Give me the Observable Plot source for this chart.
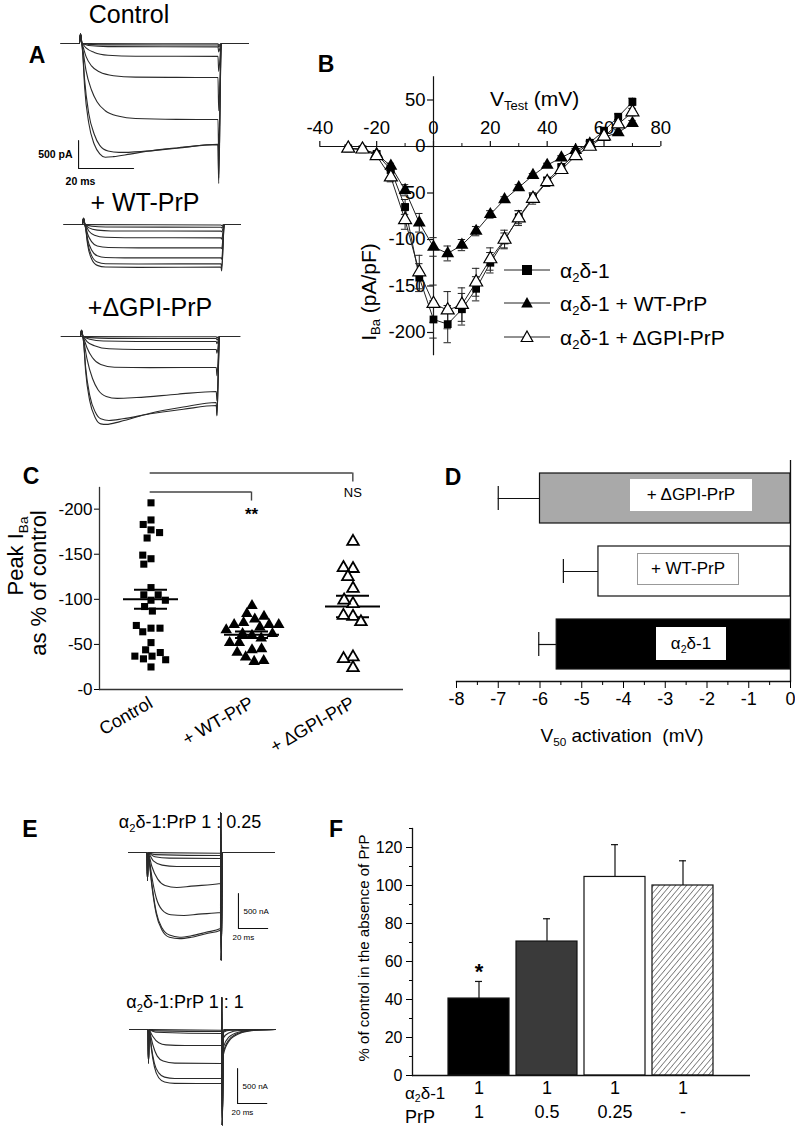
<!DOCTYPE html>
<html><head><meta charset="utf-8">
<script src="https://cdn.jsdelivr.net/npm/d3@7"></script>
<script src="https://cdn.jsdelivr.net/npm/@observablehq/plot@0.6"></script>
<style>
body{margin:0;background:#fff;}
#fig{position:relative;width:795px;height:1133px;overflow:hidden;font-family:"Liberation Sans",Arial,sans-serif;color:#000;background:#fff;}
.abs{position:absolute;white-space:nowrap;line-height:1;}
sub{font-size:0.62em;vertical-align:-0.35em;line-height:0;}
.box{position:absolute;background:#fff;display:flex;align-items:center;justify-content:center;font-size:17px;white-space:nowrap;}
</style></head><body>
<svg width="0" height="0" style="position:absolute"><defs>
<pattern id="hatch" patternUnits="userSpaceOnUse" width="4.2" height="4.2" patternTransform="rotate(40)">
<rect width="4.2" height="4.2" fill="#fff"/><line x1="0" y1="0" x2="0" y2="4.2" stroke="#333" stroke-width="1.1"/></pattern>
</defs></svg>
<div id="fig"></div>
<script>
// ---------------- DATA ----------------
// Panel A traces (t in ms, I in pA)
const aCtrlPre = [[-7,0],[-0.4,0],[0,170],[0.5,0]];
const aCtrlBodies = [
 [[0.8,-2],[50,-5]],
 [[0.8,-2],[3,-15],[10,-25],[50,-27]],
 [[0.8,-3],[3,-35],[10,-55],[50,-60]],
 [[0.8,-10],[2,-80],[5,-160],[10,-210],[20,-228],[50,-230]],
 [[0.8,-40],[2,-230],[4,-400],[7,-510],[12,-575],[20,-600],[35,-605],[50,-607]],
 [[0.8,-90],[2,-480],[4,-830],[6,-1040],[9,-1200],[14,-1300],[20,-1340],[35,-1355],[50,-1357]],
 [[0.8,-150],[1.5,-650],[3,-1250],[5,-1620],[7,-1820],[10,-1920],[14,-1945],[22,-1930],[35,-1870],[50,-1800]],
 [[0.8,-170],[1.5,-780],[3,-1420],[5,-1800],[7,-1970],[9,-2030],[12,-2020],[18,-1975],[25,-1920],[35,-1865],[50,-1805]]
];
const aCtrlTails = [-30,-60,-150,-500,-1200,-2000,-2400,-2500];

const aWTPre = [[-7,0],[-0.4,0],[0,110],[0.5,0]];
const aWTBodies = [
 [[0.8,-2],[50,-8]],
 [[0.8,-5],[3,-30],[8,-45],[50,-48]],
 [[0.8,-10],[2,-60],[5,-100],[10,-115],[50,-119]],
 [[0.8,-20],[2,-120],[4,-190],[8,-228],[15,-236],[50,-238]],
 [[0.8,-40],[1.5,-170],[3,-310],[5,-385],[9,-410],[20,-417],[50,-417]],
 [[0.8,-60],[1.5,-260],[3,-460],[5,-560],[8,-590],[15,-596],[50,-595]],
 [[0.8,-70],[1.5,-320],[3,-560],[5,-670],[8,-700],[20,-705],[50,-702]],
 [[0.8,-80],[1.5,-360],[3,-620],[5,-730],[8,-760],[20,-765],[50,-762]]
];
const aWTTails = [-20,-60,-130,-260,-430,-620,-760,-830];

const aGPIPre = [[-7.3,0],[-0.4,0],[0,110],[0.5,0]];
const aGPIBodies = [
 [[0.8,-2],[49,-5]],
 [[0.8,-3],[3,-20],[10,-33],[49,-36]],
 [[0.8,-6],[3,-50],[8,-80],[20,-88],[49,-89]],
 [[0.8,-15],[2,-90],[5,-170],[10,-220],[20,-232],[49,-232]],
 [[0.8,-35],[2,-200],[4,-380],[7,-500],[12,-548],[25,-555],[49,-554]],
 [[0.8,-70],[2,-400],[4,-750],[6,-950],[9,-1070],[13,-1105],[20,-1090],[35,-1030],[49,-982]],
 [[0.8,-110],[1.5,-550],[3,-1050],[5,-1350],[7,-1470],[10,-1500],[15,-1470],[25,-1380],[37,-1300],[49,-1232]],
 [[0.8,-120],[1.5,-620],[3,-1150],[5,-1450],[7,-1560],[9,-1570],[14,-1520],[25,-1370],[37,-1260],[49,-1179]]
];
const aGPITails = [-20,-60,-130,-300,-700,-1150,-1400,-1420];

const aScaleBar = {t: -0.7, i: -2232, dt: 20, di: 500, tl: "20 ms", il: "500 pA"};

// Panel B: I-V relationship
const bV = [-30,-25,-20,-15,-10,-5,0,5,10,15,20,25,30,35,40,45,50,55,60,65,70];
const bCtrl = [-2,-3,-8,-25,-65,-141,-186,-191,-175,-153,-125,-101,-76,-55,-37,-22,-8,4,17,32,48];
const bCtrlE = [1,1,2,4,8,15,20,20,17,13,11,8,7,5,4,3,3,2,3,3,4];
const bWT = [-2,-3,-8,-21,-47,-82,-108,-115,-106,-91,-73,-57,-44,-31,-20,-12,-4,3,10,15,25];
const bWTE = [1,1,2,3,6,10,10,8,6,5,4,3,3,2,2,2,2,2,2,3,3];
const bGPI = [-2,-3,-10,-33,-79,-135,-169,-176,-170,-146,-121,-100,-77,-56,-38,-25,-10,0,11,24,37];
const bGPIE = [1,1,2,5,10,18,20,20,18,15,12,10,8,6,5,4,3,2,3,3,4];
const bXTicks = [-40,-20,0,20,40,60,80];
const bXMinor = [-30,-10,10,30,50,70];
const bYTicks = [-200,-150,-100,-50,0,50];

// Panel C: peak IBa as % of control
const cGroups = ["Control", "+ WT-PrP", "+ ΔGPI-PrP"];
const cControl = [207,188,177,183,174,168,145,149,139,113,99,105,105,99,92,87,68,64,68,71,52,44,37,34,41,33,37,25];
const cWT = [93,84,78,81,74,72,72,72,69,60,66,62,62,57,52,52,44,45,36,41,31,32];
const cGPI = [164,134,135,125,112,95,99,81,82,75,36,34,24];
const cBrackets = [
 {from: "Control", to: "+ WT-PrP", level: 219, mark: "**"},
 {from: "Control", to: "+ ΔGPI-PrP", level: 240, mark: "NS"}
];

// Panel D: V50 activation
const dGroups = ["+ ΔGPI-PrP", "+ WT-PrP", "α2δ-1"];
const dV50 = [-6.0, -4.6, -5.6];
const dErr = [1.0, 0.84, 0.43];

// Panel E traces (t in ms, I in nA)
const e1Pre = [[-13,0],[-0.3,0],[0,-400],[0.4,0]];
const e1Bodies = [
 [[0.8,-2],[50,-10]],
 [[0.8,-3],[5,-30],[50,-43]],
 [[0.8,-5],[5,-60],[15,-80],[50,-86]],
 [[0.8,-10],[4,-120],[10,-180],[20,-200],[50,-200]],
 [[0.8,-20],[3,-200],[7,-380],[12,-470],[20,-500],[30,-480],[50,-443]],
 [[0.8,-40],[3,-350],[6,-650],[10,-820],[16,-890],[25,-900],[35,-880],[50,-857]],
 [[0.8,-50],[3,-450],[6,-850],[10,-1080],[15,-1180],[22,-1210],[30,-1190],[40,-1140],[50,-1086]],
 [[0.8,-55],[3,-480],[6,-880],[10,-1110],[15,-1210],[22,-1230],[30,-1210],[40,-1160],[50,-1110]]
];
const e1Post = [[50.2,570],[50.5,-1540],[51.2,0],[87,0]];
const e1ScaleBar = {t: 62.3, i: -1086, dt: 20, di: 500, tl: "20 ms", il: "500 nA"};

const e2Pre = [[-13,0],[-0.3,0],[0,-480],[0.4,0]];
const e2Bodies = [
 [[0.8,-2],[50,-10]],
 [[0.8,-3],[5,-20],[50,-29]],
 [[0.8,-5],[5,-40],[50,-57]],
 [[0.8,-15],[3,-100],[7,-190],[12,-220],[25,-229],[50,-229]],
 [[0.8,-30],[3,-220],[6,-380],[10,-450],[18,-480],[50,-486]],
 [[0.8,-40],[2,-250],[4,-480],[7,-620],[11,-680],[18,-700],[50,-700]],
 [[0.8,-45],[2,-280],[4,-530],[7,-690],[11,-750],[18,-770],[50,-771]]
];
const e2Spike = [[50.2,460],[50.5,-1370]];
const e2Tails = [
 [[51.3,0],[87,0]],
 [[51.3,-20],[56,-5],[87,0]],
 [[51.3,-40],[56,-10],[87,0]],
 [[51.3,-120],[55,-50],[62,-15],[87,0]],
 [[51.3,-250],[55,-110],[62,-35],[72,-5],[87,0]],
 [[51.3,-320],[55,-150],[62,-50],[72,-10],[87,0]],
 [[51.3,-360],[55,-170],[62,-60],[72,-12],[87,0]]
];
const e2ScaleBar = {t: 61, i: -1057, dt: 20, di: 500, tl: "20 ms", il: "500 nA"};

// Panel F: % of control
const fCats = ["1:1", "1:0.5", "1:0.25", "1:-"];
const fAlpha = ["1", "1", "1", "1"];
const fPrP = ["1", "0.5", "0.25", "-"];
const fPct = [40.5, 70.5, 104.5, 100];
const fSem = [9, 12, 17, 13];
const fSig = ["*", "", "", ""];

// ---------------- HELPERS ----------------
const FONT = '"Liberation Sans", Arial, Helvetica, sans-serif';
const fig = document.getElementById("fig");
function put(node, left, top) {
  node.style.position = "absolute";
  node.style.left = left + "px";
  node.style.top = top + "px";
  fig.appendChild(node);
  return node;
}
function label(html, x, y, o = {}) {
  const d = document.createElement("div");
  d.className = "abs";
  d.innerHTML = html;
  d.style.left = x + "px";
  d.style.top = y + "px";
  d.style.fontSize = (o.size || 16) + "px";
  if (o.weight) d.style.fontWeight = o.weight;
  const ax = o.anchor === "start" ? "0" : o.anchor === "end" ? "-100%" : "-50%";
  d.style.transform = `translate(${ax},-50%)` + (o.rotate ? ` rotate(${o.rotate}deg)` : "");
  fig.appendChild(d);
  return d;
}
const baseStyle = {fontFamily: FONT, background: "transparent", overflow: "visible", color: "black"};

function tracePlot({pre, bodies, posts, box, org, bar, barStyle}) {
  const rows = [];
  bodies.forEach((body, k) => {
    [...pre, ...body, ...posts[k]].forEach(([t, i]) => rows.push({k, t, i}));
  });
  const xd = [(box.left - org.x) / org.kx, (box.left + box.width - org.x) / org.kx];
  const yd = [(org.y - box.top - box.height) / org.ky, (org.y - box.top) / org.ky];
  const marks = [
    Plot.line(rows, {x: "t", y: "i", z: "k", stroke: "#2a2a2a", strokeWidth: 1.1, curve: "monotone-x"}),
    Plot.line([[bar.t, bar.i + bar.di], [bar.t, bar.i], [bar.t + bar.dt, bar.i]], {stroke: "#111", strokeWidth: 1.1}),
    Plot.text([bar], {x: "t", y: d => d.i + d.di / 2, text: "il", textAnchor: barStyle.ilAnchor, dx: barStyle.ilDx, fontSize: barStyle.size, fontWeight: barStyle.weight}),
    Plot.text([bar], {x: "t", y: "i", text: "tl", textAnchor: "start", dx: barStyle.tlDx, dy: barStyle.tlDy, fontSize: barStyle.size, fontWeight: barStyle.weight})
  ];
  const svg = Plot.plot({
    width: box.width, height: box.height, margin: 0,
    x: {domain: xd, axis: null}, y: {domain: yd, axis: null},
    style: baseStyle, marks
  });
  put(svg, box.left, box.top);
}

// ---------------- PANEL A ----------------
const aBarStyle = {ilAnchor: "end", ilDx: -6, tlDx: -13, tlDy: 13, size: 10.5, weight: "bold"};
const aNoBar = {t: 0, i: 0, dt: 0, di: 0, tl: "", il: ""};
tracePlot({pre: aCtrlPre, bodies: aCtrlBodies, posts: aCtrlTails.map(v => [[50.25, v], [51.2, 0], [61, 0]]),
  box: {left: 15, top: 25, width: 240, height: 170}, org: {x: 80, y: 43, kx: 2.75, ky: 0.056}, bar: aScaleBar, barStyle: aBarStyle});
tracePlot({pre: aWTPre, bodies: aWTBodies, posts: aWTTails.map(v => [[50.25, v], [51.2, 0], [57, 0]]),
  box: {left: 15, top: 205, width: 240, height: 80}, org: {x: 83, y: 224, kx: 2.75, ky: 0.056}, bar: aNoBar, barStyle: aBarStyle});
tracePlot({pre: aGPIPre, bodies: aGPIBodies, posts: aGPITails.map(v => [[49.25, v], [50.2, 0], [57.5, 0]]),
  box: {left: 15, top: 318, width: 240, height: 120}, org: {x: 81, y: 336, kx: 2.75, ky: 0.056}, bar: aNoBar, barStyle: aBarStyle});

label("A", 37, 55, {size: 23, weight: "bold"});
label("Control", 129, 14, {size: 25});
label("+ WT-PrP", 145, 202, {size: 25});
label("+ΔGPI-PrP", 150, 307, {size: 25});

// ---------------- PANEL B ----------------
{
  const box = {left: 290, top: 50, width: 430, height: 320};
  const org = {x: 433, y: 146, kx: 2.842, ky: 0.93};
  const rowsOf = (vals, errs, s) => bV.map((v, j) => ({s, v, i: vals[j], e: errs[j]}));
  const all = [...rowsOf(bCtrl, bCtrlE, 0), ...rowsOf(bWT, bWTE, 1), ...rowsOf(bGPI, bGPIE, 2)];
  const svg = Plot.plot({
    width: box.width, height: box.height, margin: 0,
    x: {domain: [(box.left - org.x) / org.kx, (box.left + box.width - org.x) / org.kx], axis: null},
    y: {domain: [(org.y - box.top - box.height) / org.ky, (org.y - box.top) / org.ky], axis: null},
    style: baseStyle,
    marks: [
      Plot.ruleY([0], {x1: -40, x2: 80, stroke: "#111", strokeWidth: 1.2}),
      Plot.ruleX(bXTicks, {y1: 0, y2: 5.5, stroke: "#111", strokeWidth: 1.2}),
      Plot.ruleX(bXMinor, {y1: 0, y2: 3.2, stroke: "#111", strokeWidth: 1}),
      Plot.text(bXTicks, {x: d => d, y: 0, dy: -18, text: d => String(d), fontSize: 18.5}),
      Plot.ruleX([0], {y1: -225, y2: 75, stroke: "#111", strokeWidth: 1.2}),
      Plot.ruleY(bYTicks, {x1: -2.1, x2: 0, stroke: "#111", strokeWidth: 1.2}),
      Plot.text(bYTicks, {x: 0, y: d => d, dx: -8, textAnchor: "end", text: d => String(d), fontSize: 18.5}),
      Plot.ruleX(all, {x: "v", y1: d => d.i - d.e, y2: d => d.i + d.e, stroke: "#222", strokeWidth: 1}),
      Plot.ruleY(all, {y: d => d.i - d.e, x1: d => d.v - 1.3, x2: d => d.v + 1.3, stroke: "#222", strokeWidth: 1}),
      Plot.ruleY(all, {y: d => d.i + d.e, x1: d => d.v - 1.3, x2: d => d.v + 1.3, stroke: "#222", strokeWidth: 1}),
      Plot.line(all, {x: "v", y: "i", z: "s", stroke: "#222", strokeWidth: 1}),
      Plot.dot(all.filter(d => d.s === 0), {x: "v", y: "i", symbol: "square", r: 4.4, fill: "black"}),
      Plot.dot(all.filter(d => d.s === 1), {x: "v", y: "i", symbol: "triangle", r: 4.8, fill: "black"}),
      Plot.dot(all.filter(d => d.s === 2), {x: "v", y: "i", symbol: "triangle", r: 4.8, fill: "white", stroke: "black", strokeWidth: 1.2})
    ]
  });
  put(svg, box.left, box.top);
}
label("B", 326, 64, {size: 23, weight: "bold"});
label("V<sub>Test</sub>&nbsp;(mV)", 490, 98, {size: 21, anchor: "start"});
label("I<sub>Ba</sub>&nbsp;(pA/pF)", 368, 292, {size: 21, rotate: -90});
// legend
{
  const items = [
    {y: 270, m: '<rect x="18" y="5" width="10" height="10" fill="#000"/>', t: "α<sub>2</sub>δ-1"},
    {y: 303, m: '<path d="M23 4 L28.8 14.5 L17.2 14.5 Z" fill="#000"/>', t: "α<sub>2</sub>δ-1 + WT-PrP"},
    {y: 337, m: '<path d="M23 4 L28.8 14.5 L17.2 14.5 Z" fill="#fff" stroke="#000" stroke-width="1.2"/>', t: "α<sub>2</sub>δ-1 + ΔGPI-PrP"}
  ];
  for (const it of items) {
    const d = document.createElement("div");
    d.className = "abs";
    d.innerHTML = `<svg width="46" height="20" style="vertical-align:middle"><line x1="0" y1="10" x2="46" y2="10" stroke="#222" stroke-width="1"/>${it.m}</svg>`;
    d.style.left = "504px"; d.style.top = (it.y - 10) + "px";
    fig.appendChild(d);
    label(it.t, 560, it.y, {size: 21, anchor: "start"});
  }
}

// ---------------- PANEL C ----------------
{
  const dims = {width: 420, height: 300, marginLeft: 99, marginRight: 17, marginTop: 27, marginBottom: 71};
  const sets = [cControl, cWT, cGPI];
  const rows = sets.map((vals, j) => vals.map(v => ({g: cGroups[j], v})));
  const stats = sets.map((vals, j) => {
    const m = d3.mean(vals), se = d3.deviation(vals) / Math.sqrt(vals.length);
    return {g: cGroups[j], mean: m, hi: m + se, lo: m - se};
  });
  const main = Plot.plot({
    ...dims,
    fx: {domain: cGroups, padding: 0, label: null},
    y: {domain: [0, 224], axis: null},
    style: baseStyle,
    marks: [
      Plot.axisFx({anchor: "bottom", tickRotate: -30, tickSize: 0, tickPadding: 12, fontSize: 18, label: null}),
      Plot.ruleY(stats, {fx: "g", y: "mean", insetLeft: 23, insetRight: 23, strokeWidth: 2}),
      Plot.ruleY(stats, {fx: "g", y: "hi", insetLeft: 34, insetRight: 34, strokeWidth: 2}),
      Plot.ruleY(stats, {fx: "g", y: "lo", insetLeft: 34, insetRight: 34, strokeWidth: 2}),
      Plot.dot(rows[0], Plot.dodgeX("middle", {fx: "g", y: "v", r: 4, symbol: "square", fill: "black"})),
      Plot.dot(rows[1], Plot.dodgeX("middle", {fx: "g", y: "v", r: 4.3, symbol: "triangle", fill: "black"})),
      Plot.dot(rows[2], Plot.dodgeX("middle", {fx: "g", y: "v", r: 4.3, symbol: "triangle", fill: "white", stroke: "black", strokeWidth: 1.8}))
    ]
  });
  put(main, 0, 460);
  const idx = g => cGroups.indexOf(g) + 0.5;
  const over = Plot.plot({
    ...dims,
    x: {domain: [0, 3], axis: null},
    y: {domain: [0, 224], axis: null},
    style: baseStyle,
    marks: [
      Plot.ruleY([0], {stroke: "#333", strokeWidth: 1.3}),
      Plot.frame({anchor: "left", stroke: "#333", strokeWidth: 1.3}),
      Plot.axisY([0, 50, 100, 150, 200], {tickSize: 5, tickPadding: 2, fontSize: 17, tickFormat: d => "-" + d, label: null}),
      Plot.ruleY(cBrackets, {y: "level", x1: d => idx(d.from), x2: d => idx(d.to), stroke: "#444", strokeWidth: 1.4}),
      Plot.ruleX(cBrackets, {x: d => idx(d.to), y1: "level", y2: d => d.level - 10, stroke: "#444", strokeWidth: 1.4}),
      Plot.text(cBrackets.filter(d => d.mark === "**"), {x: d => idx(d.to), y: d => d.level - 10, dy: 14, text: "mark", fontSize: 17, fontWeight: "bold"}),
      Plot.text(cBrackets.filter(d => d.mark !== "**"), {x: d => idx(d.to), y: d => d.level - 10, dy: 11, text: "mark", fontSize: 13})
    ]
  });
  put(over, 0, 460);
}
label("C", 31, 476, {size: 23, weight: "bold"});
label("Peak I<sub>Ba</sub>", 16, 556, {size: 22, rotate: -90});
label("as % of control", 39, 583, {size: 22, rotate: -90});

// ---------------- PANEL D ----------------
{
  const rows = dGroups.map((g, j) => ({g, v: dV50[j], e: dErr[j]}));
  const svg = Plot.plot({
    width: 375, height: 260, marginLeft: 36, marginRight: 5, marginTop: 0, marginBottom: 39,
    x: {domain: [-8, 0], axis: null},
    y: {domain: dGroups, paddingInner: 0.32, paddingOuter: 0.16, axis: null},
    color: {domain: dGroups, range: ["#a9a9a9", "#ffffff", "#000000"]},
    style: baseStyle,
    marks: [
      Plot.barX(rows, {y: "g", x: "v", fill: "g", stroke: "#111", strokeWidth: 1.2}),
      Plot.ruleY(rows, {y: "g", x1: "v", x2: d => d.v - d.e, stroke: "#111", strokeWidth: 1.2}),
      Plot.tickX(rows, {y: "g", x: d => d.v - d.e, insetTop: 13, insetBottom: 13, stroke: "#111", strokeWidth: 1.2}),
      Plot.ruleX([0], {stroke: "#111", strokeWidth: 1.3}),
      Plot.frame({anchor: "bottom", stroke: "#111", strokeWidth: 1.3}),
      Plot.axisX([-8, -7, -6, -5, -4, -3, -2, -1, 0], {tickSize: 7, tickPadding: 4, fontSize: 18, tickFormat: d => String(d), label: null}),
      Plot.axisX([-7.5, -6.5, -5.5, -4.5, -3.5, -2.5, -1.5, -0.5], {tickSize: 4, tickFormat: () => "", label: null})
    ]
  });
  put(svg, 420, 460);
}
label("D", 453, 477, {size: 23, weight: "bold"});
{
  const boxes = [
    {l: 630, t: 479, w: 122, h: 32, html: "+ ΔGPI-PrP", border: "none"},
    {l: 637, t: 553, w: 102, h: 32, html: "+ WT-PrP", border: "1px solid #999"},
    {l: 656, t: 627, w: 70, h: 33, html: "α<sub>2</sub>δ-1", border: "none"}
  ];
  for (const b of boxes) {
    const d = document.createElement("div");
    d.className = "box";
    d.style.left = b.l + "px"; d.style.top = b.t + "px";
    d.style.width = b.w + "px"; d.style.height = b.h + "px";
    d.style.border = b.border; d.style.boxSizing = "border-box";
    d.innerHTML = `<span>${b.html}</span>`;
    fig.appendChild(d);
  }
}
label("V<sub>50</sub> activation&nbsp; (mV)", 622, 735, {size: 19});

// ---------------- PANEL E ----------------
const eBarStyle = {ilAnchor: "start", ilDx: 5, tlDx: -6, tlDy: 9, size: 8, weight: "normal"};
tracePlot({pre: e1Pre, bodies: e1Bodies, posts: e1Bodies.map(() => e1Post),
  box: {left: 100, top: 805, width: 200, height: 165}, org: {x: 147, y: 852, kx: 1.46, ky: 0.07}, bar: e1ScaleBar, barStyle: eBarStyle});
tracePlot({pre: e2Pre, bodies: e2Bodies, posts: e2Tails.map(t => [...e2Spike, ...t]),
  box: {left: 100, top: 985, width: 200, height: 148}, org: {x: 148, y: 1029, kx: 1.46, ky: 0.07}, bar: e2ScaleBar, barStyle: eBarStyle});
label("E", 30, 829, {size: 23, weight: "bold"});
label("α<sub>2</sub>δ-1:PrP 1 : 0.25", 190, 822, {size: 18});
label("α<sub>2</sub>δ-1:PrP 1 : 1", 185, 1002, {size: 18});

// ---------------- PANEL F ----------------
{
  const rows = fCats.map((c, j) => ({c, v: fPct[j], e: fSem[j], a: fAlpha[j], p: fPrP[j], s: fSig[j]}));
  const svg = Plot.plot({
    width: 465, height: 333, marginLeft: 82, marginRight: 45, marginTop: 28, marginBottom: 58,
    x: {domain: fCats, paddingInner: 0.1, paddingOuter: 0.5, axis: null},
    y: {domain: [0, 130], axis: null},
    color: {domain: fCats, range: ["#000000", "#3a3a3a", "#ffffff", "url(#hatch)"]},
    style: baseStyle,
    marks: [
      Plot.barY(rows, {x: "c", y: "v", fill: "c", stroke: "#111", strokeWidth: 1.2}),
      Plot.ruleX(rows, {x: "c", y1: "v", y2: d => d.v + d.e, stroke: "#111", strokeWidth: 1.2}),
      Plot.tickY(rows, {x: "c", y: d => d.v + d.e, insetLeft: 27, insetRight: 27, stroke: "#111", strokeWidth: 1.2}),
      Plot.text(rows, {x: "c", y: d => d.v + d.e, text: "s", dy: -9, fontSize: 22, fontWeight: "bold"}),
      Plot.text(rows, {x: "c", text: "a", frameAnchor: "bottom", dy: 18, fontSize: 18}),
      Plot.text(rows, {x: "c", text: "p", frameAnchor: "bottom", dy: 42, fontSize: 18}),
      Plot.ruleY([0], {stroke: "#111", strokeWidth: 1.3}),
      Plot.frame({anchor: "left", stroke: "#111", strokeWidth: 1.3}),
      Plot.axisY([0, 20, 40, 60, 80, 100, 120], {tickSize: 6, tickPadding: 4, fontSize: 16, label: null}),
      Plot.axisY([10, 30, 50, 70, 90, 110, 130], {tickSize: 3, tickFormat: () => "", label: null})
    ]
  });
  put(svg, 330, 800);
}
label("F", 336, 829, {size: 23, weight: "bold"});
label("% of control in the absence of PrP", 363, 948, {size: 15, rotate: -90});
label("α<sub>2</sub>δ-1", 405, 1093, {size: 17, anchor: "start"});
label("PrP", 405, 1117, {size: 18, anchor: "start"});
</script>
</body></html>
